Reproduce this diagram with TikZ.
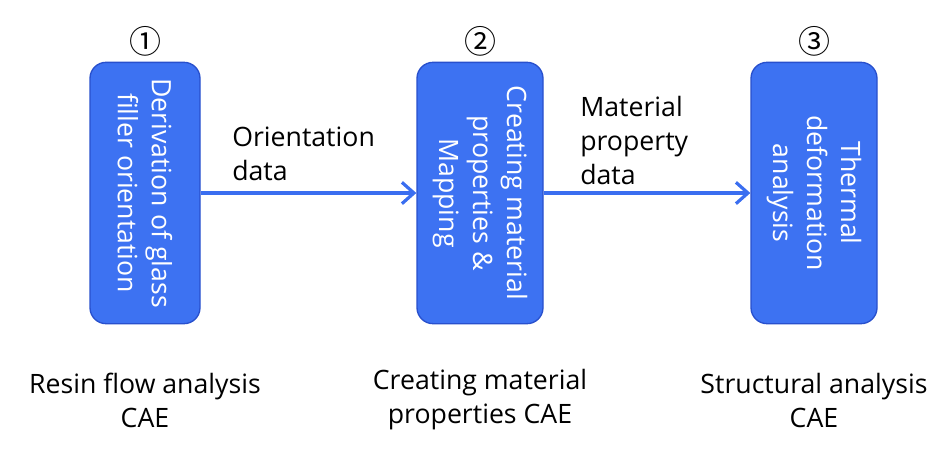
\documentclass[tikz,border=0pt]{standalone}
\usepackage{fontspec}
\setmainfont{Open Sans}
\newfontfamily\circfont{Noto Sans CJK JP}
\usetikzlibrary{arrows.meta, positioning}
\definecolor{boxblue}{RGB}{61,114,242}
\definecolor{edgeblue}{RGB}{40,80,205}
\definecolor{lineblue}{RGB}{58,110,240}

\begin{document}
\begin{tikzpicture}[x=0.75pt,y=-0.75pt,
      >={Straight Barb[length=9pt,width=16pt,line width=2.4pt]},
      every node/.style={font=\fontsize{20}{25.5}\selectfont},
      stage/.style={draw=edgeblue,line width=1pt,fill=boxblue,rounded corners=12pt,
        rotate=-90,text=white,align=center,minimum width=196pt,inner sep=0pt},
      step no/.style={font=\circfont\fontsize{24}{24}\selectfont,inner sep=0pt},
      note/.style={align=left,inner sep=0pt},
      caption/.style={align=center,inner sep=0pt},
      flow/.style={->,draw=lineblue,line width=2.6pt}]
      \useasboundingbox (0,0) rectangle (945,465);
      \node[stage,minimum height=82.5pt] (b_1) at (145,193) {Derivation of glass\\filler orientation};
      \node[stage,minimum height=94.5pt] (b_2) at (480,193) {Creating material\\properties \&\\Mapping};
      \node[stage,minimum height=94.5pt] (b_3) at (814,193) {Thermal\\deformation\\analysis};
      \node[step no] (n_1) at (145,41) {①};
      \node[step no] (n_2) at (480,41) {②};
      \node[step no] (n_3) at (814,41) {③};
      \draw[flow] (b_1) -- (b_2);
      \draw[flow] (b_2) -- (b_3);
      \node[note,anchor=west] (d_1) at (232,154) {Orientation\\data};
      \node[note,anchor=west] (d_2) at (580,140) {Material\\property\\data};
      \node[caption] (c_1) at (145,400) {Resin flow analysis\\CAE};
      \node[caption] (c_2) at (480,400) {Creating material\\properties CAE};
      \node[caption] (c_3) at (814,400) {Structural analysis\\CAE};
    \end{tikzpicture}
\end{document}
